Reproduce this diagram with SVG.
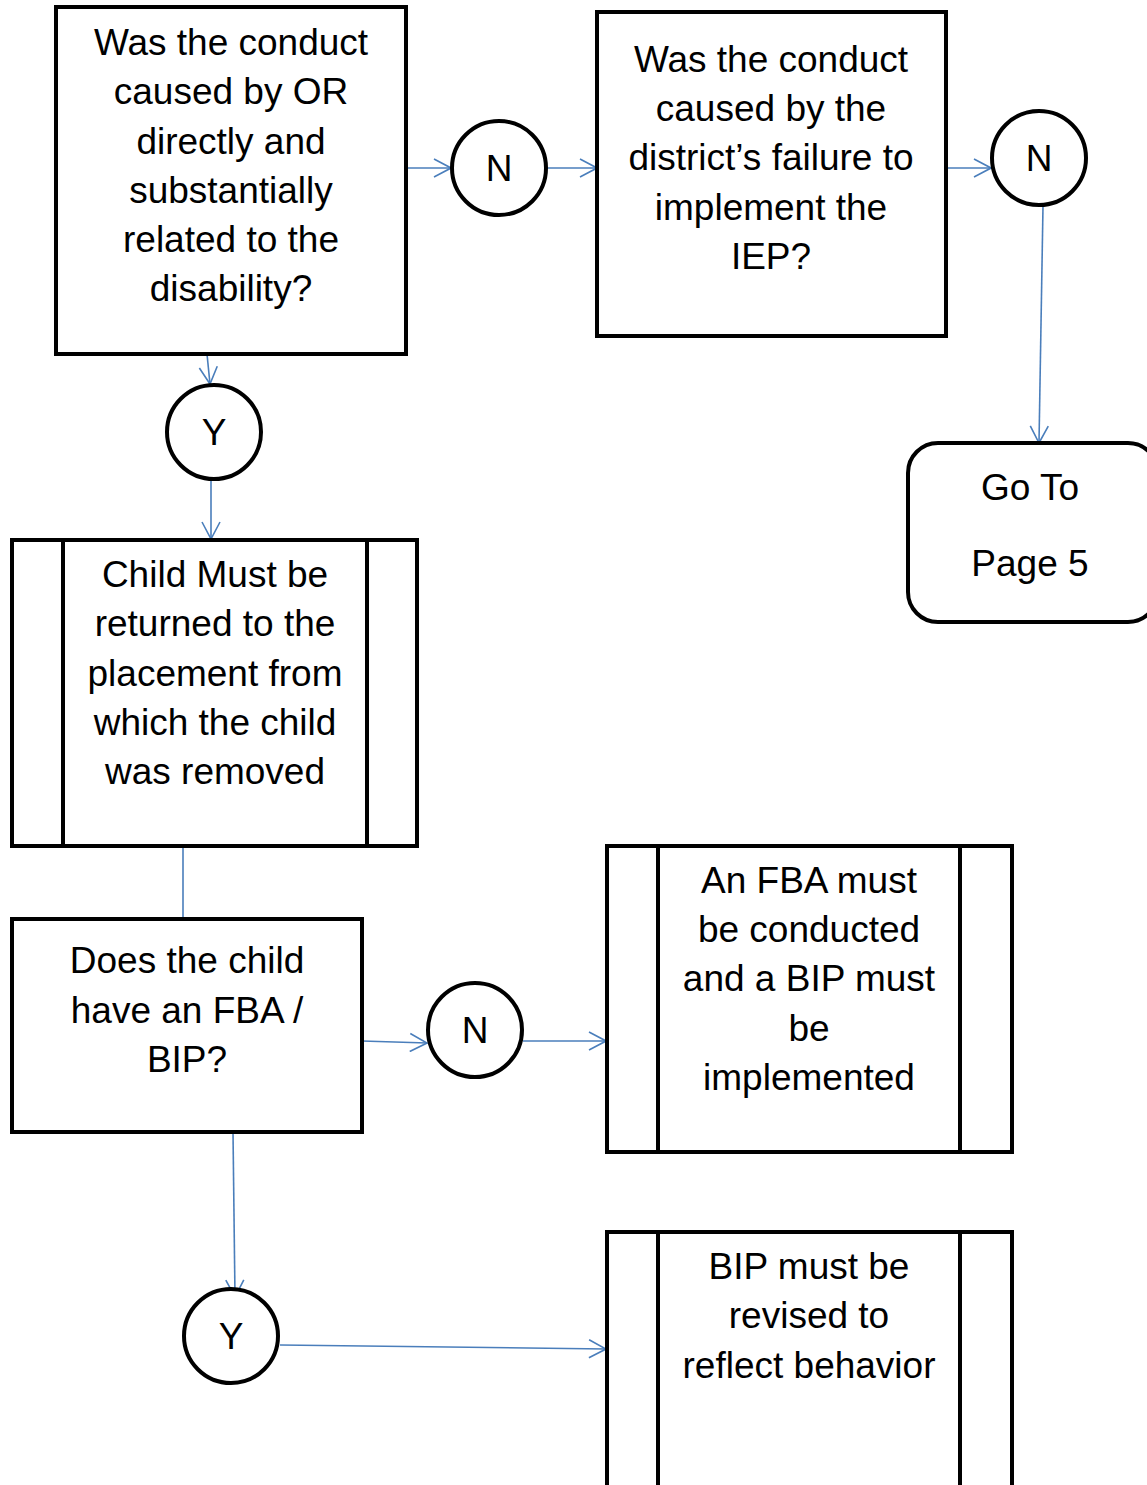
<svg xmlns="http://www.w3.org/2000/svg" width="1147" height="1485" viewBox="0 0 1147 1485">
<style>
.box{fill:#fff;stroke:#000;stroke-width:4}
.bar{fill:none;stroke:#000;stroke-width:4}
.t{font-family:"Liberation Sans",Arial,sans-serif;font-size:37px;fill:#000;text-anchor:middle}
.c{stroke:#4a7ebb;stroke-width:1.6;fill:none}
.a{marker-end:url(#arr)}
</style>
<defs>
<marker id="arr" viewBox="0 0 20 20" refX="19" refY="10" markerWidth="20" markerHeight="20" markerUnits="userSpaceOnUse" orient="auto">
<path d="M2,1 L19,10 L2,19" fill="none" stroke="#4a7ebb" stroke-width="1.6"/>
</marker>
</defs>
<rect width="1147" height="1485" fill="#fff"/>
<g id="connectors">
<line class="c a" x1="406" y1="168" x2="451" y2="168"/>
<line class="c a" x1="547" y1="168" x2="597" y2="168"/>
<line class="c a" x1="946" y1="168" x2="991" y2="168"/>
<line class="c a" x1="1043" y1="206" x2="1039" y2="443"/>
<line class="c a" x1="207" y1="354" x2="210" y2="384"/>
<line class="c a" x1="211" y1="481" x2="211" y2="539"/>
<line class="c" x1="183" y1="846" x2="183" y2="919"/>
<line class="c a" x1="362" y1="1041" x2="427" y2="1043"/>
<line class="c a" x1="523" y1="1041" x2="606" y2="1041"/>
<line class="c a" x1="233" y1="1132" x2="235" y2="1297"/>
<line class="c a" x1="280" y1="1345" x2="606" y2="1349"/>
</g>
<g id="q1">
<rect class="box" x="56" y="7" width="350" height="347"/>
<text class="t" x="231" y="55">Was the conduct</text>
<text class="t" x="231" y="104">caused by OR</text>
<text class="t" x="231" y="154">directly and</text>
<text class="t" x="231" y="203">substantially</text>
<text class="t" x="231" y="252">related to the</text>
<text class="t" x="231" y="301">disability?</text>
</g>
<g id="n1">
<circle class="box" cx="499" cy="168" r="47"/>
<text class="t" x="499" y="181">N</text>
</g>
<g id="q2">
<rect class="box" x="597" y="12" width="349" height="324"/>
<text class="t" x="771" y="72">Was the conduct</text>
<text class="t" x="771" y="121">caused by the</text>
<text class="t" x="771" y="170">district’s failure to</text>
<text class="t" x="771" y="220">implement the</text>
<text class="t" x="771" y="269">IEP?</text>
</g>
<g id="n2">
<circle class="box" cx="1039" cy="158" r="47"/>
<text class="t" x="1039" y="171">N</text>
</g>
<g id="goto">
<rect class="box" x="908" y="443" width="250" height="179" rx="30" ry="30"/>
<text class="t" x="1030" y="500">Go To</text>
<text class="t" x="1030" y="576">Page 5</text>
</g>
<g id="y1">
<circle class="box" cx="214" cy="432" r="47"/>
<text class="t" x="214" y="445">Y</text>
</g>
<g id="p1">
<rect class="box" x="12" y="540" width="405" height="306"/>
<line class="bar" x1="63" y1="540" x2="63" y2="846"/>
<line class="bar" x1="367" y1="540" x2="367" y2="846"/>
<text class="t" x="215" y="587">Child Must be</text>
<text class="t" x="215" y="636">returned to the</text>
<text class="t" x="215" y="686">placement from</text>
<text class="t" x="215" y="735">which the child</text>
<text class="t" x="215" y="784">was removed</text>
</g>
<g id="q3">
<rect class="box" x="12" y="919" width="350" height="213"/>
<text class="t" x="187" y="973">Does the child</text>
<text class="t" x="187" y="1023">have an FBA /</text>
<text class="t" x="187" y="1072">BIP?</text>
</g>
<g id="n3">
<circle class="box" cx="475" cy="1030" r="47"/>
<text class="t" x="475" y="1043">N</text>
</g>
<g id="p2">
<rect class="box" x="607" y="846" width="405" height="306"/>
<line class="bar" x1="658" y1="846" x2="658" y2="1152"/>
<line class="bar" x1="960" y1="846" x2="960" y2="1152"/>
<text class="t" x="809" y="893">An FBA must</text>
<text class="t" x="809" y="942">be conducted</text>
<text class="t" x="809" y="991">and a BIP must</text>
<text class="t" x="809" y="1041">be</text>
<text class="t" x="809" y="1090">implemented</text>
</g>
<g id="y2">
<circle class="box" cx="231" cy="1336" r="47"/>
<text class="t" x="231" y="1349">Y</text>
</g>
<g id="p3">
<rect class="box" x="607" y="1232" width="405" height="300"/>
<line class="bar" x1="658" y1="1232" x2="658" y2="1532"/>
<line class="bar" x1="960" y1="1232" x2="960" y2="1532"/>
<text class="t" x="809" y="1279">BIP must be</text>
<text class="t" x="809" y="1328">revised to</text>
<text class="t" x="809" y="1378">reflect behavior</text>
</g>
</svg>
